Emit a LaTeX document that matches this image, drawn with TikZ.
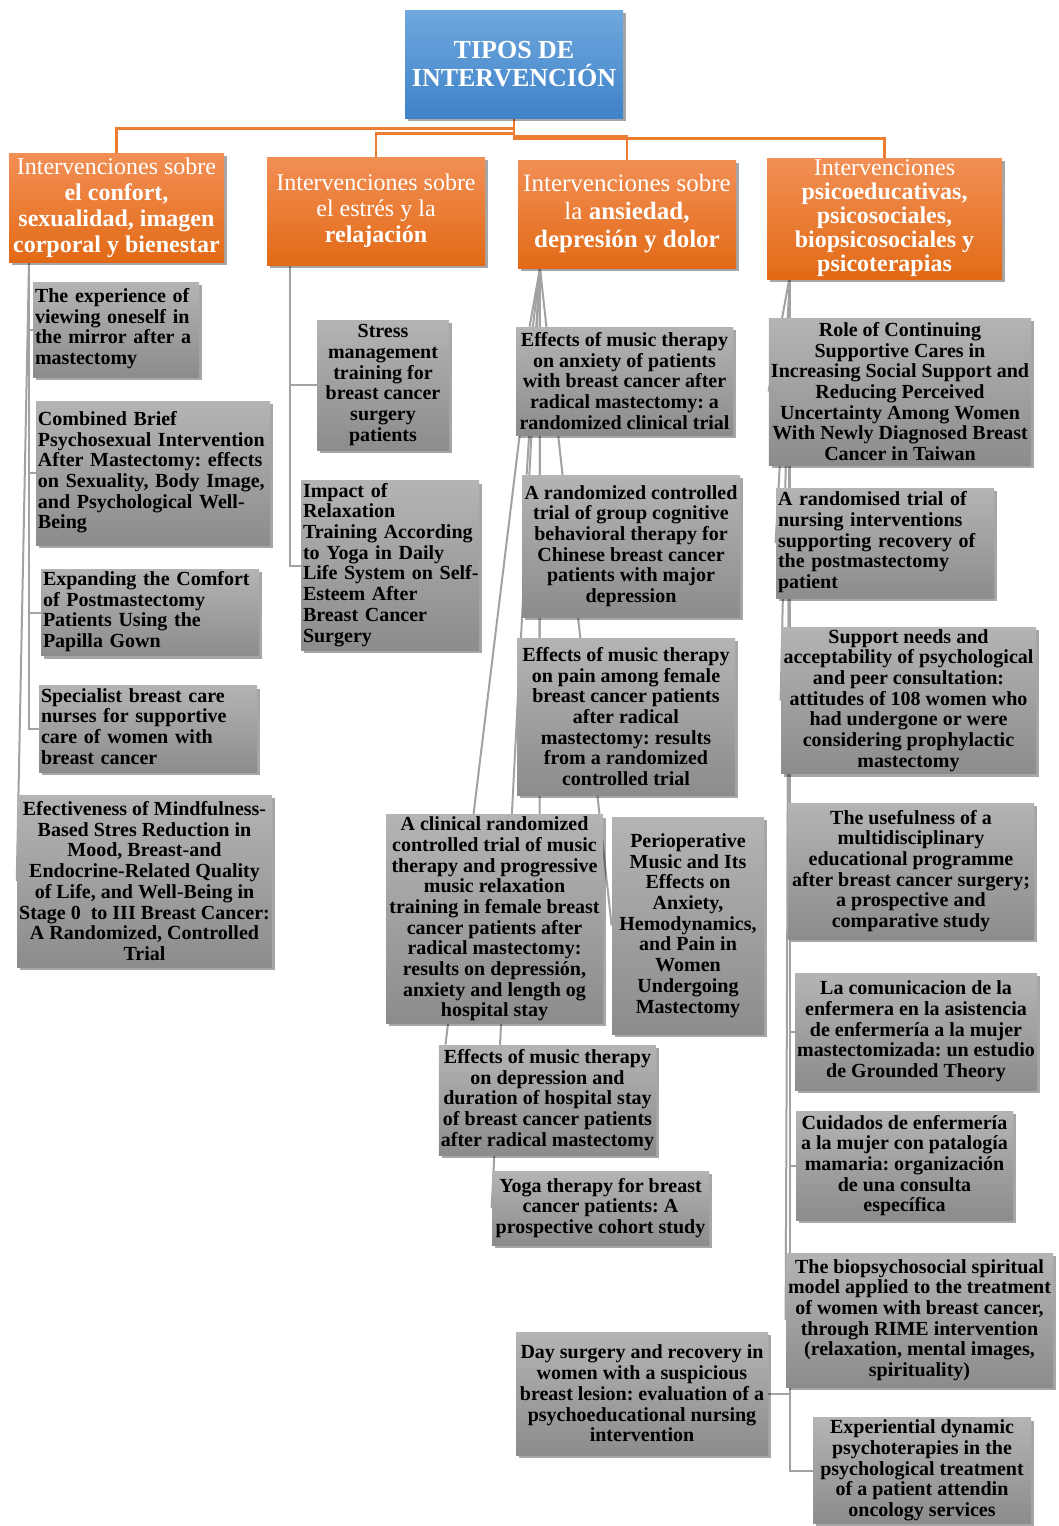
\documentclass[tikz,border=0pt]{standalone}
\usepackage{fontspec}
\setmainfont{Liberation Serif}
\usetikzlibrary{shadows,backgrounds}
\frenchspacing
\definecolor{gtop}{HTML}{B4B4B4}
\definecolor{gbot}{HTML}{8C8C8C}
\definecolor{otop}{HTML}{F28F55}
\definecolor{obot}{HTML}{E26A16}
\definecolor{btop}{HTML}{70A8DE}
\definecolor{bbot}{HTML}{3E82C8}
\definecolor{oline}{HTML}{ED7D31}
\definecolor{glinec}{HTML}{A2A2A2}
\newcommand\mybox[7]{\node[#6, minimum width={(#4-#2)*0.5pt}, minimum height={(#5-#3)*0.5pt}] (#1) at ({(#2+#4)/2},{(#3+#5)/2}) {#7};}
\newcommand\lefttab[1]{\begin{tabular}{@{}l@{}}#1\end{tabular}}
\tikzset{
  shad/.style={drop shadow={shadow xshift=1.5pt, shadow yshift=-1.5pt, opacity=0.35, fill=black}},
  gbox/.style={shad, top color=gtop, bottom color=gbot, inner sep=1pt, text=black, font=\fontsize{10}{10.35}\selectfont\bfseries\frenchspacing},
  gl/.style={gbox, align=left, text width=#1},
  gc/.style={gbox, align=center},
  hdr/.style={shad, top color=otop, bottom color=obot, text=white, inner sep=1pt, align=center, font=\fontsize{12}{13}\selectfont},
  rootbox/.style={shad, top color=btop, bottom color=bbot, text=white, inner sep=1pt, align=center, font=\fontsize{13}{14}\selectfont\bfseries},
  orl/.style={draw=oline, line width=1.25pt},
  gline/.style={draw=glinec, line width=1pt}
}
\begin{document}
\begin{tikzpicture}[x=0.5pt,y=-0.5pt]
\useasboundingbox (0,0) rectangle (1059,1526);
% header boxes
\mybox{root}{405}{10}{623}{118}{rootbox}{TIPOS DE\\INTERVENCIÓN}
\mybox{cat1}{9}{153}{224}{262}{hdr}{Intervenciones sobre\\\textbf{el confort,}\\\textbf{sexualidad, imagen}\\\textbf{corporal y bienestar}}
\mybox{cat2}{267}{157}{485}{265}{hdr}{Intervenciones sobre\\el estrés y la\\\textbf{relajación}}
\mybox{cat3}{518}{160}{736}{268}{hdr, font=\fontsize{12.5}{14}\selectfont}{Intervenciones sobre\\la \textbf{ansiedad,}\\\textbf{depresión y dolor}}
\mybox{cat4}{767}{162}{1002}{275}{hdr, font=\fontsize{12}{12}\selectfont}{Intervenciones\\\textbf{psicoeducativas,}\\\textbf{psicosociales,}\\\textbf{biopsicosociales y}\\\textbf{psicoterapias}}
% column 1
\mybox{g1a}{33}{282}{199}{377}{gl=81pt}{\lefttab{The experience of\\viewing oneself in\\the mirror after a\\mastectomy}}
\mybox{g1b}{36}{401}{270}{545}{gl=115pt}{\lefttab{Combined Brief\\Psychosexual Intervention\\After Mastectomy: effects\\on Sexuality, Body Image,\\and Psychological Well-\\Being}}
\mybox{g1c}{41}{573}{259}{652}{gl=107pt}{\lefttab{Expanding the Comfort\\of Postmastectomy\\Patients Using the\\Papilla Gown}}
\mybox{g1d}{39}{690}{257}{768}{gl=107pt}{\lefttab{Specialist breast care\\nurses for supportive\\care of women with\\breast cancer}}
\mybox{g1e}{18}{795}{271}{967}{gc}{Efectiveness of Mindfulness-\\Based Stres Reduction in\\Mood, Breast-and\\Endocrine-Related Quality\\of Life, and Well-Being in\\Stage 0\ \ to III Breast Cancer:\\A Randomized, Controlled\\Trial}
% column 2
\mybox{g2a}{317}{320}{449}{450}{gc}{Stress\\management\\training for\\breast cancer\\surgery\\patients}
\mybox{g2b}{301}{483}{479}{648}{gl=87pt}{\lefttab{Impact of\\Relaxation\\Training According\\to Yoga in Daily\\Life System on Self-\\Esteem After\\Breast Cancer\\Surgery}}
% column 3
\mybox{g3a}{516}{327}{733}{435}{gc}{Effects of music therapy\\on anxiety of patients\\with breast cancer after\\radical mastectomy: a\\randomized clinical trial}
\mybox{g3b}{522}{475}{740}{617}{gc}{A randomized controlled\\trial of group cognitive\\behavioral therapy for\\Chinese breast cancer\\patients with major\\depression}
\mybox{g3c}{517}{638}{735}{795}{gc}{Effects of music therapy\\on pain among female\\breast cancer patients\\after radical\\mastectomy: results\\from a randomized\\controlled trial}
\mybox{g3d}{386}{820}{603}{1018}{gc}{A clinical randomized\\controlled trial of music\\therapy and progressive\\music relaxation\\training in female breast\\cancer patients after\\radical mastectomy:\\results on depressión,\\anxiety and length og\\hospital stay}
\mybox{g3e}{612}{817}{764}{1034}{gc}{Perioperative\\Music and Its\\Effects on\\Anxiety,\\Hemodynamics,\\and Pain in\\Women\\Undergoing\\Mastectomy}
\mybox{g3f}{440}{1045}{655}{1155}{gc}{Effects of music therapy\\on depression and\\duration of hospital stay\\of breast cancer patients\\after radical mastectomy}
\mybox{g3g}{492}{1171}{709}{1245}{gc}{Yoga therapy for breast\\cancer patients: A\\prospective cohort study}
% column 4
\mybox{g4a}{769}{318}{1031}{465}{gc}{Role of Continuing\\Supportive Cares in\\Increasing Social Support and\\Reducing Perceived\\Uncertainty Among Women\\With Newly Diagnosed Breast\\Cancer in Taiwan}
\mybox{g4b}{776}{488}{994}{598}{gl=107pt}{\lefttab{A randomised trial of\\nursing interventions\\supporting recovery of\\the postmastectomy\\patient}}
\mybox{g4c}{781}{628}{1036}{773}{gc}{Support needs and\\acceptability of psychological\\and peer consultation:\\attitudes of 108 women who\\had undergone or were\\considering prophylactic\\mastectomy}
\mybox{g4d}{788}{803}{1034}{939}{gc}{The usefulness of a\\multidisciplinary\\educational programme\\after breast cancer surgery;\\a prospective and\\comparative study}
\mybox{g4e}{795}{973}{1037}{1090}{gc}{La comunicacion de la\\enfermera en la asistencia\\de enfermería a la mujer\\mastectomizada: un estudio\\de Grounded Theory}
\mybox{g4f}{796}{1111}{1013}{1220}{gc}{Cuidados de enfermería\\a la mujer con patalogía\\mamaria: organización\\de una consulta\\específica}
\mybox{g4g}{786}{1253}{1053}{1387}{gc}{The biopsychosocial spiritual\\model applied to the treatment\\of women with breast cancer,\\through RIME intervention\\(relaxation, mental images,\\spirituality)}
\mybox{g4h}{813}{1418}{1031}{1523}{gc}{Experiential dynamic\\psychoterapies in the\\psychological treatment\\of a patient attendin\\oncology services}
\mybox{g4i}{516}{1332}{768}{1455}{gc}{Day surgery and recovery in\\women with a suspicious\\breast lesion: evaluation of a\\psychoeducational nursing\\intervention}
% connectors
\begin{scope}[on background layer]
\fill[white] (0,0) rectangle (1059,1526);
\draw[orl] (root.south) -- ++(0,10) -| (cat1.north);
\draw[orl] (root.south) -- ++(0,15) -| (cat2.north);
\draw[orl] (root.south) -- ++(0,18) -| (cat3.north);
\draw[orl] (root.south) -- ++(0,20) -| (cat4.north);
\coordinate (c1) at (29,262);
\coordinate (c2) at (290,265);
\coordinate (c3) at (540,268);
\coordinate (c4) at (790,275);
\draw[gline] (c1) |- (g1a.west);
\draw[gline] (c1) |- (g1b.west);
\draw[gline] (c1) |- (g1c.west);
\draw[gline] (c1) |- (g1d.west);
\draw[gline] (c1) -- (g1e.west);
\draw[gline] (c2) |- (g2a.west);
\draw[gline] (c2) |- (g2b.west);
\draw[gline] (c3) -- ([xshift=7pt]g3a.north west);
\draw[gline] (c3) -- ([xshift=2.5pt]g3b.north west);
\draw[gline] (c3) -- ([xshift=11.5pt]g3c.north west);
\draw[gline] (c3) -- ([xshift=77pt]g3d.north west);
\draw[gline] (c3) -- ([xshift=3.5pt]g3f.north west);
\draw[gline] (c3) -- (g3g.west);
\draw[gline] (c3) -- (g3e.west);
\draw[gline] (c4) -- (g4a.west);
\draw[gline] (c4) -- (g4b.west);
\draw[gline] (c4) -- (g4c.west);
\draw[gline] (c4) -- (g4d.west);
\draw[gline] (c4) |- (g4e.west);
\draw[gline] (c4) |- (g4f.west);
\draw[gline] (c4) -- (g4g.west);
\draw[gline] (c4) |- (g4i.east);
\draw[gline] (c4) |- (g4h.west);
\end{scope}
\end{tikzpicture}
\end{document}
